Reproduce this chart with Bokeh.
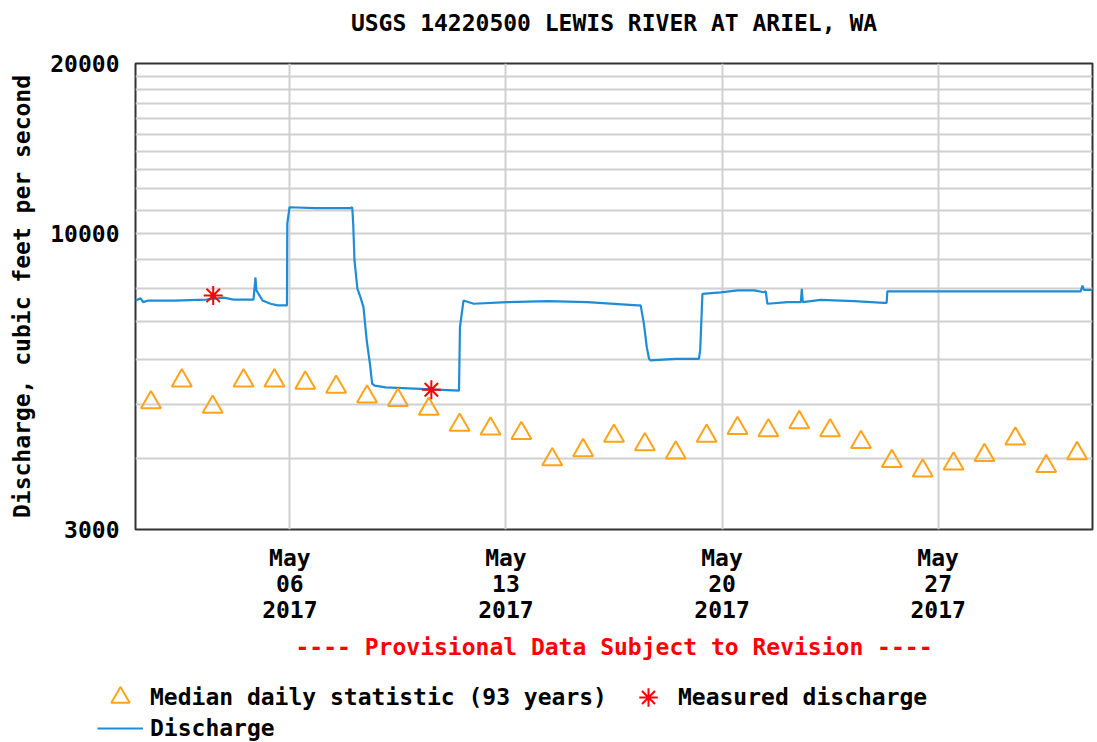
from datetime import datetime
from bokeh.plotting import figure
from bokeh.layouts import column, row
from bokeh.models import (Range1d, FixedTicker, DatetimeTickFormatter, Legend, LegendItem,
                          Title, CustomJSTickFormatter)
from bokeh.embed import file_html
from bokeh.resources import INLINE

# ---------------- data ----------------
title_text = "USGS 14220500 LEWIS RIVER AT ARIEL, WA"
provisional_text = "---- Provisional Data Subject to Revision ----"
y_label = "Discharge, cubic feet per second"
legend_labels = ["Median daily statistic (93 years)", "Measured discharge", "Discharge"]

# Median daily statistic (93 years), one value per day, May 1 .. May 31 (plotted at noon)
median_days = list(range(1, 32))
median_cfs = [5030, 5500, 4940, 5500, 5500, 5450, 5360, 5150, 5080, 4900,
              4590, 4520, 4440, 3990, 4140, 4390, 4240, 4100, 4390, 4530,
              4490, 4640, 4490, 4280, 3960, 3810, 3920, 4060, 4340, 3880, 4090]

# Measured discharge
measured_times = ["2017-05-03 12:25", "2017-05-10 14:00"]
measured_cfs = [7780, 5300]

# Discharge (provisional)
discharge_times = [
    "05-01 00:00", "05-01 04:00", "05-01 06:00", "05-01 10:00", "05-02 06:00",
    "05-03 07:00", "05-03 14:00", "05-03 20:30", "05-04 04:15", "05-04 17:30",
    "05-04 19:45", "05-04 21:15", "05-04 22:00", "05-05 02:45", "05-05 09:00",
    "05-05 14:30", "05-05 21:45", "05-05 22:00", "05-05 23:45", "05-06 20:00",
    "05-07 23:15", "05-08 00:30", "05-08 01:15", "05-08 02:15", "05-08 04:30",
    "05-08 07:00", "05-08 09:15", "05-08 11:45", "05-08 14:15", "05-08 16:00",
    "05-08 18:00", "05-09 02:30", "05-10 05:30", "05-11 11:30", "05-11 12:15",
    "05-11 15:00", "05-11 23:00", "05-13 01:00", "05-14 08:15", "05-15 15:15",
    "05-17 06:15", "05-17 08:45", "05-17 11:15", "05-17 13:30", "05-17 15:15",
    "05-17 16:30", "05-18 12:00", "05-19 06:00", "05-19 07:00", "05-19 08:45",
    "05-19 23:00", "05-20 12:00", "05-21 01:00", "05-21 08:30", "05-21 10:00",
    "05-21 11:15", "05-22 03:00", "05-22 13:15", "05-22 14:00", "05-22 14:45",
    "05-23 04:45", "05-24 06:30", "05-25 06:00", "05-25 08:00", "05-25 08:30",
    "05-29 00:45", "05-31 14:45", "05-31 16:15", "05-31 17:15", "06-01 00:00",
]
discharge_cfs = [
    7620, 7690, 7570, 7620, 7620, 7650, 7680, 7710, 7650, 7650,
    7650, 8370, 7940, 7620, 7520, 7470, 7470, 10420, 11140, 11100,
    11100, 11140, 10420, 8970, 8000, 7710, 7410, 6480, 5890, 5430,
    5390, 5350, 5320, 5280, 6840, 7620, 7520, 7570, 7600, 7570,
    7470, 7470, 6930, 6300, 6010, 5970, 6010, 6010, 6220, 7830,
    7880, 7940, 7940, 7880, 7910, 7520, 7570, 7570, 7990, 7570,
    7640, 7600, 7550, 7550, 7910, 7910, 7910, 8100, 7960, 7960,
]

x_tick_dates = ["2017-05-06", "2017-05-13", "2017-05-20", "2017-05-27"]
y_major_ticks = [3000, 10000, 20000]
y_minor_ticks = [4000, 5000, 6000, 7000, 8000, 9000, 11000, 12000, 13000, 14000,
                 15000, 16000, 17000, 18000, 19000]
x_start, x_end = "2017-05-01 00:00", "2017-06-01 00:00"
y_start, y_end = 3000, 20000

# ---------------- build ----------------
FONT = "DejaVu Sans Mono"
FS = "23px"
BLUE = "#1f8dd6"
ORANGE = "#ffa31a"
RED = "#ff0000"

def dt(s):
    return datetime.strptime(s, "%Y-%m-%d %H:%M")

med_x = [datetime(2017, 5, d, 12, 0) for d in median_days]
meas_x = [dt(s) for s in measured_times]
dis_x = [dt("2017-" + s) for s in discharge_times]

p = figure(width=1097, height=680, x_axis_type="datetime", y_axis_type="log",
           x_range=Range1d(dt(x_start), dt(x_end)), y_range=Range1d(y_start, y_end),
           output_backend="svg", toolbar_location=None,
           min_border_left=135, min_border_right=5, min_border_top=63, min_border_bottom=151)

p.title.text = title_text
p.title.align = "center"
p.title.text_font = FONT
p.title.text_font_size = FS
p.title.text_font_style = "bold"
p.title.text_color = "black"
# blank spacer between frame and title to lift the title
p.add_layout(Title(text=" ", text_font_size="10px"), "above")

p.outline_line_color = "#333333"
p.outline_line_width = 2
p.background_fill_color = "white"
p.border_fill_color = "white"

tick_ms = [(datetime.strptime(d, "%Y-%m-%d") - datetime(1970, 1, 1)).total_seconds() * 1000
           for d in x_tick_dates]
p.xaxis.ticker = FixedTicker(ticks=tick_ms)
fmt = "%b\n%d\n%Y"
p.xaxis.formatter = DatetimeTickFormatter(microseconds=fmt, milliseconds=fmt, seconds=fmt,
                                          minsec=fmt, minutes=fmt, hourmin=fmt, hours=fmt,
                                          days=fmt, months=fmt, years=fmt)
p.yaxis.ticker = FixedTicker(ticks=y_major_ticks, minor_ticks=y_minor_ticks)
p.yaxis.formatter = CustomJSTickFormatter(code="return tick.toFixed(0);")

for ax in (p.xaxis[0], p.yaxis[0]):
    ax.axis_line_color = None
    ax.major_tick_line_color = None
    ax.minor_tick_line_color = None
    ax.major_tick_out = 0
    ax.major_tick_in = 0
    ax.minor_tick_out = 0
    ax.minor_tick_in = 0
    ax.major_label_text_font = FONT
    ax.major_label_text_font_size = FS
    ax.major_label_text_font_style = "bold"
    ax.major_label_text_color = "black"

p.xaxis.major_label_standoff = 15
p.xaxis.major_label_text_line_height = 1.0
p.yaxis.major_label_standoff = 16
p.yaxis.axis_label = y_label
p.yaxis.axis_label_text_font = FONT
p.yaxis.axis_label_text_font_size = FS
p.yaxis.axis_label_text_font_style = "bold"
p.yaxis.axis_label_text_color = "black"
p.yaxis.axis_label_standoff = 12

p.xgrid.grid_line_color = "#d0d0d0"
p.xgrid.grid_line_width = 2
p.ygrid.grid_line_color = "#d0d0d0"
p.ygrid.grid_line_width = 2
p.ygrid.minor_grid_line_color = "#d0d0d0"
p.ygrid.minor_grid_line_width = 2

line_r = p.line(dis_x, discharge_cfs, line_color=BLUE, line_width=2.2)
tri_r = p.scatter(med_x, median_cfs, marker="triangle", size=20, fill_color=None,
                  line_color=ORANGE, line_width=2)
ast_r = p.scatter(meas_x, measured_cfs, marker="asterisk", size=19,
                  line_color=RED, line_width=2)

prov = Title(text=provisional_text, align="center", text_font=FONT, text_font_size=FS,
             text_font_style="bold", text_color=RED, standoff=12)
p.add_layout(prov, "below")

# ---- legend strip (separate small figure so the legend is not clipped) ----
q = figure(width=1097, height=62, x_range=Range1d(0, 1), y_range=Range1d(0, 1),
           output_backend="svg", toolbar_location=None,
           min_border_left=0, min_border_right=0, min_border_top=0, min_border_bottom=0)
q.axis.visible = False
q.grid.visible = False
q.outline_line_color = None
# legend proxies use the real series; q's ranges keep them out of view
lg_tri = q.scatter(median_days, median_cfs, marker="triangle", size=20, fill_color=None,
                   line_color=ORANGE, line_width=2)
lg_ast = q.scatter([2, 3], measured_cfs, marker="asterisk", size=18, line_color=RED,
                   line_width=2)
lg_line = q.line([2, 3], discharge_cfs[:2], line_color=BLUE, line_width=2.2)

common = dict(orientation="horizontal", glyph_width=46, glyph_height=46, label_standoff=7,
              spacing=18, padding=0, margin=0, border_line_color=None,
              background_fill_alpha=0, label_text_font=FONT, label_text_font_size=FS,
              label_text_font_style="bold", label_text_color="black")
legend_a = Legend(items=[LegendItem(label=legend_labels[0], renderers=[lg_tri]),
                         LegendItem(label=legend_labels[1], renderers=[lg_ast])],
                  location=(97, 22), **common)
legend_b = Legend(items=[LegendItem(label=legend_labels[2], renderers=[lg_line])],
                  location=(97, -9), **common)
q.add_layout(legend_a, "center")
q.add_layout(legend_b, "center")

layout = column(p, row(q), spacing=0)
open("out.html", "w").write(file_html(layout, INLINE))
